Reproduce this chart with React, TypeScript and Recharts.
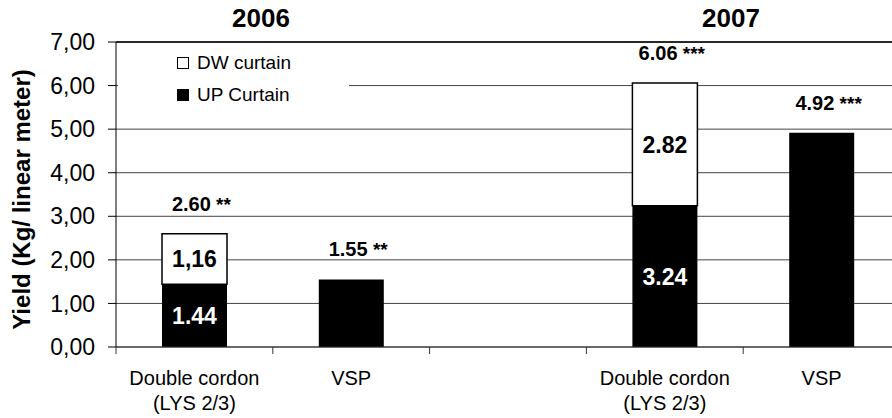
import {
    ComposedChart,
    Bar,
    Line,
    XAxis,
    YAxis,
    CartesianGrid,
    Legend,
    LabelList,
    ReferenceLine,
} from "recharts";

// categories (a blank slot separates the two years)
const categoryLines = [
    ["Double cordon", "(LYS 2/3)"],
    ["VSP"],
    [],
    ["Double cordon", "(LYS 2/3)"],
    ["VSP"],
];
const upCurtain = [1.44, 1.55, null, 3.24, 4.92];
const dwCurtain = [1.16, 0, null, 2.82, 0];
const totals = [2.6, 1.55, null, 6.06, 4.92];
const totalTexts = ["2.60 **", "1.55 **", "", "6.06 ***", "4.92 ***"];
const upLabels = ["1.44", "", "", "3.24", ""];
const dwLabels = ["1,16", "", "", "2.82", ""];
const yTicks = [0, 1, 2, 3, 4, 5, 6, 7];
const years = [
    {label: "2006", center: 261},
    {label: "2007", center: 731},
];

const data = categoryLines.map((lines, i) => ({
    name: lines.join(" ") || " ",
    up: upCurtain[i],
    dw: dwCurtain[i],
    total: totals[i],
    totalText: totalTexts[i],
    upLabel: upLabels[i],
    dwLabel: dwLabels[i],
}));

const FONT = '"Liberation Sans", Arial, sans-serif';

function CategoryTick(props: any) {
    const {x, y, payload, index, width, visibleTicksCount} = props;
    const half = payload?.offset || (width && visibleTicksCount ? width / visibleTicksCount / 2 : 78.4);
    const lines = categoryLines[index] || [];
    return (
        <g>
            <line x1={x - half} x2={x - half} y1={y} y2={y + 7} stroke="#333" strokeWidth={1} />
            {lines.map((t, i) => (
                <text key={i} x={x} y={y + 38 + i * 25} textAnchor="middle" fontSize={20} fill="#000" fontFamily={FONT}>
                    {t}
                </text>
            ))}
        </g>
    );
}

function TotalLabel(props: any) {
    const {x, y, value} = props;
    if (!value || x == null || y == null) return null;
    const [num, stars] = String(value).split(" ");
    return (
        <text x={x + 7} y={y - 23} textAnchor="middle" fontSize={20} fontWeight="bold" fill="#000" fontFamily={FONT}>
            {num}
            <tspan fontSize={19}>{" " + stars}</tspan>
        </text>
    );
}

function LegendBox() {
    const rows = [
        {label: "DW curtain", fill: "#fff"},
        {label: "UP Curtain", fill: "#000"},
    ];
    return (
        <div style={{paddingLeft: 59, fontFamily: FONT}}>
            {rows.map((r) => (
                <div key={r.label} style={{height: 32, display: "flex", alignItems: "center"}}>
                    <span
                        style={{
                            display: "inline-block",
                            width: 10,
                            height: 10,
                            border: "1px solid #000",
                            background: r.fill,
                            marginRight: 8,
                        }}
                    />
                    <span style={{fontSize: 19, color: "#000"}}>{r.label}</span>
                </div>
            ))}
        </div>
    );
}

export default function App() {
    return (
        <div
            style={{
                position: "absolute",
                left: 0,
                top: 0,
                width: 892,
                height: 418,
                overflow: "hidden",
                background: "#fff",
                fontFamily: FONT,
            }}
        >
            <ComposedChart
                width={900}
                height={418}
                data={data}
                margin={{top: 42, right: 0, bottom: 0, left: 0}}
                style={{fontFamily: FONT}}
            >
                <CartesianGrid horizontal vertical={false} stroke="#444" />
                <ReferenceLine y={7} stroke="#000" strokeWidth={1.5} />
                <XAxis
                    dataKey="name"
                    height={71}
                    tickSize={0}
                    tickMargin={0}
                    tickLine={false}
                    axisLine={{stroke: "#333"}}
                    interval={0}
                    tick={<CategoryTick />}
                />
                <YAxis
                    width={116}
                    domain={[0, 7]}
                    ticks={yTicks}
                    tickSize={8}
                    tickMargin={13}
                    axisLine={{stroke: "#000"}}
                    tickLine={{stroke: "#000"}}
                    tick={{fontSize: 23, fill: "#000"}}
                    tickFormatter={(v: number) => v.toFixed(2).replace(".", ",")}
                    label={{
                        value: "Yield (Kg/ linear meter)",
                        angle: -90,
                        position: "insideLeft",
                        offset: 21,
                        dx: 0,
                        dy: 5,
                        style: {textAnchor: "middle", fontWeight: "bold", fontSize: 24, fill: "#000"},
                    }}
                />
                <Legend
                    layout="vertical"
                    align="center"
                    verticalAlign="middle"
                    wrapperStyle={{left: 118, top: 47, width: 231, height: 64, background: "#fff"}}
                    content={() => <LegendBox />}
                />
                <Bar dataKey="up" stackId="a" fill="#000" barSize={65} isAnimationActive={false}>
                    <LabelList dataKey="upLabel" position="center" fill="#fff" fontSize={23} fontWeight="bold" />
                </Bar>
                <Bar dataKey="dw" stackId="a" fill="#fff" stroke="#000" strokeWidth={1.5} barSize={65} isAnimationActive={false}>
                    <LabelList dataKey="dwLabel" position="center" fill="#000" fontSize={23} fontWeight="bold" />
                </Bar>
                <Line
                    dataKey="total"
                    stroke="none"
                    dot={false}
                    activeDot={false}
                    legendType="none"
                    isAnimationActive={false}
                >
                    <LabelList dataKey="totalText" content={<TotalLabel />} />
                </Line>
            </ComposedChart>
            {years.map((yr) => (
                <div
                    key={yr.label}
                    style={{
                        position: "absolute",
                        left: yr.center - 50,
                        top: 5,
                        width: 100,
                        textAlign: "center",
                        fontSize: 26,
                        lineHeight: "26px",
                        fontWeight: "bold",
                        color: "#000",
                    }}
                >
                    {yr.label}
                </div>
            ))}
        </div>
    );
}
